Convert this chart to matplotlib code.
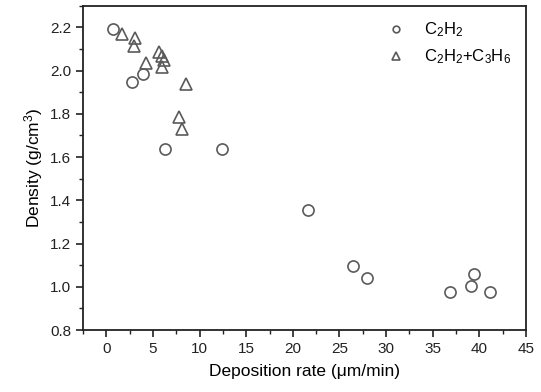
import matplotlib
matplotlib.use('Agg')
import matplotlib.pyplot as plt
from matplotlib.ticker import MultipleLocator

plt.rcParams['font.family'] = ['Liberation Sans', 'DejaVu Sans']
plt.rcParams['mathtext.fontset'] = 'custom'
plt.rcParams['mathtext.rm'] = 'Liberation Sans'
plt.rcParams['mathtext.it'] = 'Liberation Sans:italic'

# C2H2
rate_c2h2 = [0.75, 2.8, 3.95, 6.3, 12.4, 21.6, 26.5, 28.0, 36.8, 39.1, 39.4, 41.1]
dens_c2h2 = [2.19, 1.948, 1.983, 1.638, 1.638, 1.357, 1.097, 1.043, 0.978, 1.004, 1.058, 0.975]

# C2H2 + C3H6
rate_mix = [1.65, 3.05, 2.98, 4.3, 5.7, 6.0, 6.2, 5.95, 8.5, 7.8, 8.1]
dens_mix = [2.169, 2.15, 2.115, 2.034, 2.087, 2.068, 2.05, 2.017, 1.94, 1.785, 1.728]

labels = ['C$_\\mathrm{2}$H$_\\mathrm{2}$', 'C$_\\mathrm{2}$H$_\\mathrm{2}$+C$_\\mathrm{3}$H$_\\mathrm{6}$']

fig = plt.figure(figsize=(5.41, 3.92), dpi=100)
ax = fig.add_axes([0.1534, 0.158, 0.8189, 0.8275])

mc = '#5a5a5a'
ax.plot(rate_c2h2, dens_c2h2, 'o', mfc='none', mec=mc, mew=1.2, ms=8, label=labels[0])
ax.plot(rate_mix, dens_mix, '^', mfc='none', mec=mc, mew=1.2, ms=8.5, label=labels[1])

ax.set_xlim(-2.5, 45)
ax.set_ylim(0.8, 2.3)
ax.xaxis.set_major_locator(MultipleLocator(5))
ax.xaxis.set_minor_locator(MultipleLocator(2.5))
ax.yaxis.set_major_locator(MultipleLocator(0.2))
ax.yaxis.set_minor_locator(MultipleLocator(0.1))
ax.tick_params(which='major', direction='out', length=5, width=1.2, labelsize=11, colors='#222222')
ax.tick_params(which='minor', direction='out', length=3, width=1.0, colors='#222222')
for s in ax.spines.values():
    s.set_linewidth(1.3)
    s.set_color('#222222')

ax.set_xlabel('Deposition rate (μm/min)', fontsize=12.5, labelpad=6)
ax.set_ylabel('Density (g/cm$^\\mathrm{3}$)', fontsize=12.5, labelpad=4)

ax.legend(loc='upper right', frameon=False, fontsize=12, markerscale=0.6,
          handletextpad=0.7, borderaxespad=0.5, labelspacing=0.5)

fig.savefig('out.png', dpi=100)
